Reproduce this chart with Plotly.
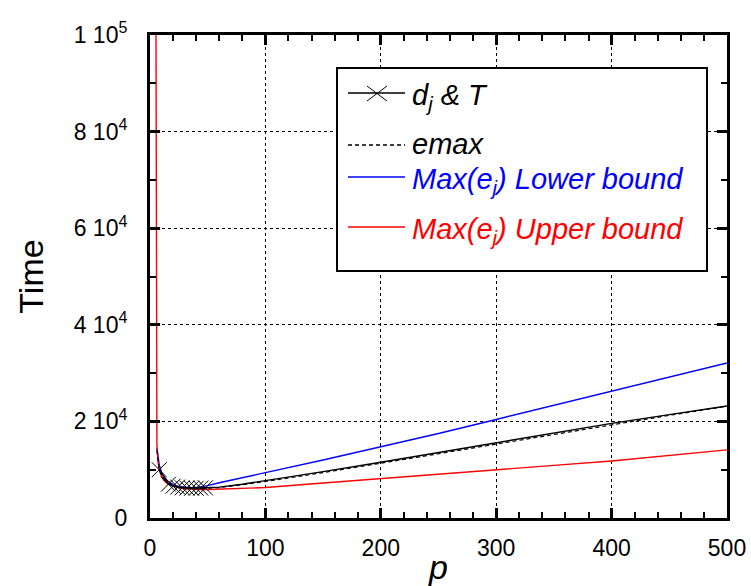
import plotly.graph_objects as go

# ---- data -------------------------------------------------------------
p_upper = [5, 6, 7, 8, 10, 12, 15, 20, 25, 30, 35, 40, 45, 50, 60, 80, 100,
           150, 200, 250, 300, 350, 400, 450, 500]
t_upper = [120000, 15000, 11500, 10000, 8600, 7800, 7100, 6600, 6250, 6050,
           5950, 5900, 5900, 5900, 5950, 6100, 6300, 7250, 8200, 9100, 10000,
           10900, 11800, 12900, 14100]

p_lower = [6, 7, 8, 10, 12, 15, 20, 25, 30, 35, 40, 45, 50, 60, 80, 100,
           150, 200, 250, 300, 350, 400, 450, 500]
t_lower = [14500, 12300, 11000, 9500, 8600, 7700, 6900, 6500, 6300, 6250,
           6300, 6450, 6700, 7300, 8300, 9400, 12000, 14700, 17500, 20400,
           23300, 26300, 29200, 32100]

p_dj = [8, 16, 20, 24, 28, 32, 36, 40, 44, 48, 60, 80, 100, 150, 200, 250,
        300, 350, 400, 450, 500]
t_dj = [10000, 7000, 6600, 6400, 6250, 6200, 6150, 6150, 6200, 6250, 6400,
        7000, 7700, 9600, 11550, 13600, 15600, 17600, 19600, 21400, 23200]
n_marked = 10  # points of d_j & T that carry a marker

p_emax = [6, 7, 8, 10, 15, 20, 30, 40, 50, 60, 80, 100, 150, 200, 250, 300,
          350, 400, 450, 500]
t_emax = [14000, 11700, 10000, 8800, 7300, 6600, 6200, 6100, 6150, 6300,
          6900, 7550, 9400, 11300, 13300, 15300, 17300, 19350, 21250, 23150]

x_ticks = [0, 100, 200, 300, 400, 500]
y_ticks = [0, 20000, 40000, 60000, 80000, 100000]
y_ticktext = ["0", "2 10<sup>4</sup>", "4 10<sup>4</sup>", "6 10<sup>4</sup>",
              "8 10<sup>4</sup>", "1 10<sup>5</sup>"]

FONT = "Liberation Sans, Arial, sans-serif"
BLUE = "#0000ff"
RED = "#ff0000"

fig = go.Figure()
fig.add_trace(go.Scatter(x=p_lower, y=t_lower, mode="lines",
                         line=dict(color=BLUE, width=1.4), showlegend=False))
fig.add_trace(go.Scatter(x=p_upper, y=t_upper, mode="lines",
                         line=dict(color=RED, width=1.4), showlegend=False))
fig.add_trace(go.Scatter(x=p_dj, y=t_dj, mode="lines",
                         line=dict(color="black", width=1.4), showlegend=False))
fig.add_trace(go.Scatter(x=p_emax, y=t_emax, mode="lines",
                         line=dict(color="black", width=1.2, dash="4px,3px"),
                         showlegend=False))
fig.add_trace(go.Scatter(x=p_dj[:n_marked], y=t_dj[:n_marked], mode="markers",
                         marker=dict(symbol="x-thin", size=15,
                                     line=dict(color="black", width=1)),
                         showlegend=False))

axis_common = dict(
    showline=True, linecolor="black", linewidth=3, mirror="ticks",
    ticks="inside", ticklen=10, tickwidth=2.5, tickcolor="black",
    showgrid=True, gridcolor="black", gridwidth=1.3, griddash="dot",
    zeroline=False, automargin=False,
    tickfont=dict(family=FONT, size=23, color="black"),
)

fig.update_xaxes(
    range=[0, 500], tickvals=x_ticks, ticktext=[str(v) for v in x_ticks],
    minor=dict(dtick=20, ticks="inside", ticklen=6, tickwidth=2,
               tickcolor="black", showgrid=False),
    title=dict(text="<i>p</i>", font=dict(family=FONT, size=34, color="black"),
               standoff=0),
    ticklabelstandoff=7,
    **axis_common,
)
fig.update_yaxes(
    range=[0, 100000], tickvals=y_ticks, ticktext=y_ticktext,
    minor=dict(dtick=10000, ticks="inside", ticklen=6, tickwidth=2,
               tickcolor="black", showgrid=False),
    title=dict(text="Time", font=dict(family=FONT, size=34, color="black"),
               standoff=20),
    ticklabelstandoff=15,
    **axis_common,
)

fig.update_layout(
    width=751, height=586,
    margin=dict(l=150, r=24, t=35, b=68),
    plot_bgcolor="white", paper_bgcolor="white",
    showlegend=False,
)

# ---- legend box -------------------------------------------------------
def px_x(px):
    return (px - 150) / 577.0


def px_y(py):
    return (518 - py) / 483.0


shapes = [dict(type="rect", xref="paper", yref="paper",
               x0=px_x(337), x1=px_x(707), y0=px_y(271), y1=px_y(68),
               line=dict(color="black", width=2), fillcolor="white",
               layer="above")]

# (line y, line colour, dash, label, text colour, text y)
legend_rows = [
    (93, "black", "solid", "<i>d<sub>j</sub> &amp; T</i>", "black", 97),
    (145, "black", "4px,3px", "<i>emax</i>", "black", 144),
    (177, BLUE, "solid", "<i>Max(e<sub>j</sub>) Lower bound</i>", BLUE, 181),
    (227, RED, "solid", "<i>Max(e<sub>j</sub>) Upper bound</i>", RED, 231),
]
annotations = []
for y_px, col, dash, label, tcol, ty in legend_rows:
    shapes.append(dict(type="line", xref="paper", yref="paper",
                       x0=px_x(348), x1=px_x(405), y0=px_y(y_px), y1=px_y(y_px),
                       line=dict(color=col, width=1.4, dash=dash),
                       layer="above"))
    annotations.append(dict(xref="paper", yref="paper", x=px_x(410),
                            y=px_y(ty), xanchor="left", yanchor="middle",
                            text=label, showarrow=False,
                            font=dict(family=FONT, size=29, color=tcol)))

# cross marker in the first legend row
for (xa, ya, xb, yb) in [(367, 86, 387, 101), (367, 101, 387, 86)]:
    shapes.append(dict(type="line", xref="paper", yref="paper",
                       x0=px_x(xa), x1=px_x(xb), y0=px_y(ya), y1=px_y(yb),
                       line=dict(color="black", width=1), layer="above"))

fig.update_layout(shapes=shapes, annotations=annotations)

fig.write_html("out.html")
